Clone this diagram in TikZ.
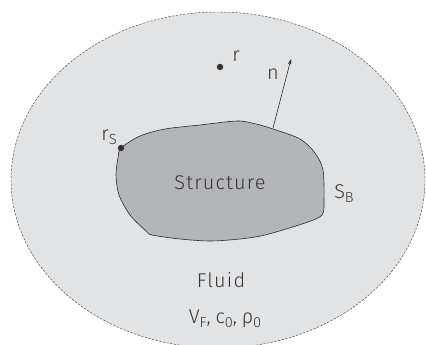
\documentclass[tikz,border=0pt]{standalone}
\usepackage{fontspec}
\setmainfont{Fira Sans Light}[LetterSpace=6]
\usetikzlibrary{arrows.meta}
\definecolor{fluidgray}{RGB}{226,227,229}
\definecolor{structgray}{RGB}{180,181,184}
\definecolor{txtgray}{RGB}{55,55,55}
\newcommand\mysub[1]{\raisebox{-3.5pt}{\fontsize{12.5}{13}\selectfont #1}}
\tikzset{
  lbl/.style={text=txtgray, font=\fontsize{17}{20}\selectfont, inner sep=0pt},
  pt/.style={circle, fill=black!80, inner sep=0pt, minimum size=5.5pt},
}
\begin{document}
\begin{tikzpicture}[x=0.03cm,y=-0.03cm]
\useasboundingbox (0,0) rectangle (426,345);
\fill[white] (0,0) rectangle (426,345);
\begin{scope}
\clip (0,0) rectangle (426,345);
\draw[fill=fluidgray, draw=black!70, line width=0.4pt, dash pattern=on 2pt off 1.2pt] (218,180) ellipse [x radius=207, y radius=168];
\end{scope}
\draw[fill=structgray, draw=black!85, line width=0.5pt]
  plot[smooth cycle, tension=0.5] coordinates {
  (121,148) (140,136) (165,129) (200,125) (237,121) (256,124) (273,129) (300,139)
  (315,153) (323,170) (324,200) (322,215) (305,223) (265,235) (240,239) (210,241)
  (180,239) (152,235) (146,231) (130,215) (119,195) (116,175) (118,158)};
\node[pt] (rs) at (121,148) {};
\node[pt] (r) at (220,67) {};
\coordinate (nbase) at (273,128);
\coordinate (ntip) at (291,59);
\draw[-{Stealth[length=5pt,width=3pt]}, line width=0.5pt, black!85] (nbase) -- (ntip);
\node[lbl] (rl) at (236,56) {r};
\node[lbl] (nl) at (273,74) {n};
\node[lbl] (rsl) at (109,137) {r\mysub{S}};
\node[lbl] (st) at (220,183) {Structure};
\node[lbl] (sb) at (344,194) {S\mysub{B}};
\node[lbl] (fl) at (221,280) {Fluid};
\node[lbl] (vf) at (225,319) {V\mysub{F},\hspace{4pt}c\mysub{0},\hspace{4pt}ρ\mysub{0}};
\end{tikzpicture}
\end{document}
